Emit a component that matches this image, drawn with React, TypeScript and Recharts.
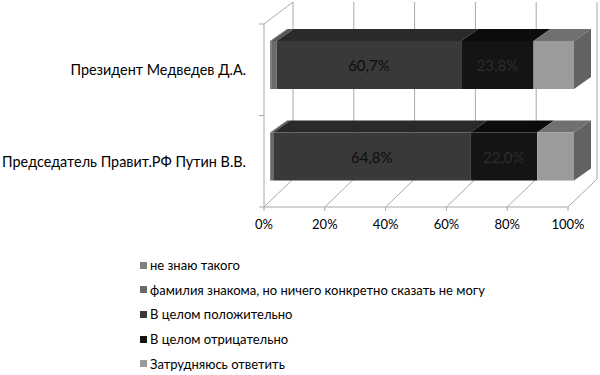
import React from "react";
import {
  BarChart,
  Bar,
  XAxis,
  YAxis,
  CartesianGrid,
  Legend,
  LabelList,
} from "recharts";

const categories = ["Президент Медведев Д.А.", "Председатель Правит.РФ Путин В.В."];
const seriesNames = [
  "не знаю такого",
  "фамилия знакома, но ничего конкретно сказать не могу",
  "В целом положительно",
  "В целом отрицательно",
  "Затрудняюсь ответить",
];
const dontKnow = [0.4, 0.3];
const familiar = [1.8, 0.8];
const positive = [60.7, 64.8];
const negative = [23.8, 22.0];
const hardToSay = [13.3, 12.1];
const xTicks = [0, 20, 40, 60, 80, 100];

const FONT = "Lato, 'Noto Sans', sans-serif";
const FRONT = ["#7f7f7f", "#6a6a6a", "#393939", "#141414", "#9b9b9b"];
const TOP = ["#666666", "#555555", "#2a2a2a", "#0c0c0c", "#707070"];
const LABEL = ["#000", "#000", "#0d0d0d", "#2c2c2c", "#000"];
const SIDE = "#626262";
const GRID = "#a9a9a9";

// 3d offsets: bars sit a bit behind the front plane, walls go further back
const OX = 6;
const OY = -5;
const BDX = 17;
const BDY = -12;
const WDX = 29;
const WDY = -28;

const keys = ["s0", "s1", "s2", "s3", "s4"];
const seriesData = [dontKnow, familiar, positive, negative, hardToSay];
const data = categories.map((name, i) => {
  const row: any = { name };
  keys.forEach((k, j) => (row[k] = seriesData[j][i]));
  return row;
});

const makeShape = (idx: number) => (props: any) => {
  const { x, y, width, height } = props;
  if (width == null || height == null) return <g />;
  const fx = x + OX;
  const fy = y + OY;
  const top = `${fx},${fy} ${fx + BDX},${fy + BDY} ${fx + width + BDX},${fy + BDY} ${fx + width},${fy}`;
  const side = `${fx + width},${fy} ${fx + width + BDX},${fy + BDY} ${fx + width + BDX},${fy + height + BDY} ${fx + width},${fy + height}`;
  return (
    <g>
      <polygon points={top} fill={TOP[idx]} />
      {idx === keys.length - 1 && <polygon points={side} fill={SIDE} />}
      <rect x={fx} y={fy} width={width} height={height} fill={FRONT[idx]} />
    </g>
  );
};

const makeLabel = (idx: number) => (props: any) => {
  const { x, y, width, height, value } = props;
  return (
    <text
      x={x + width / 2 + OX}
      y={y + height / 2 + OY}
      textAnchor="middle"
      dominantBaseline="central"
      fontFamily={FONT}
      fontSize={15}
      fill={LABEL[idx]}
    >
      {value.toFixed(1).replace(".", ",") + "%"}
    </text>
  );
};

const gridLine = (props: any) => {
  const { x1, y1, y2, index } = props;
  return (
    <g key={`v-${index}`}>
      <line x1={x1 + WDX} y1={2} x2={x1 + WDX} y2={y2 + WDY} stroke={GRID} />
      <line x1={x1} y1={y2} x2={x1 + WDX} y2={y2 + WDY} stroke={GRID} />
      {index === 0 && <line x1={x1} y1={y1} x2={x1 + WDX} y2={2} stroke={GRID} />}
    </g>
  );
};

const YTick = (props: any) => {
  const { x, y, height, payload } = props;
  const axisX = x + 18;
  const half = height / categories.length / 2;
  return (
    <g>
      <line x1={axisX - 5} y1={y - half} x2={axisX} y2={y - half} stroke={GRID} />
      <line x1={axisX - 5} y1={y + half} x2={axisX} y2={y + half} stroke={GRID} />
      <text x={x} y={y} textAnchor="end" dominantBaseline="central" fontFamily={FONT} fontSize={14.4} fill="#000">
        {payload.value}
      </text>
    </g>
  );
};

const LegendBox = () => (
  <div style={{ fontFamily: FONT, fontSize: 13, color: "#000" }}>
    {seriesNames.map((name, i) => (
      <div key={i} style={{ display: "flex", alignItems: "center", height: 24.6 }}>
        <span style={{ width: 7, height: 7, background: FRONT[i], marginRight: 3 }} />
        <span>{name}</span>
      </div>
    ))}
  </div>
);

export default function App() {
  return (
    <div style={{ position: "absolute", left: 0, top: 0, background: "#fff" }}>
      <BarChart
        width={600}
        height={375}
        data={data}
        layout="vertical"
        barSize={48}
        margin={{ top: 24, right: 32, left: 10, bottom: 138 }}
      >
        <CartesianGrid horizontal={false} vertical={gridLine} />
        <XAxis
          type="number"
          domain={[0, 100]}
          ticks={xTicks}
          tickFormatter={(v) => `${v}%`}
          height={30}
          stroke={GRID}
          tickSize={4}
          tickMargin={9}
          tick={{ fill: "#000", fontSize: 13, fontFamily: FONT }}
        />
        <YAxis
          type="category"
          dataKey="name"
          width={254}
          stroke={GRID}
          tickLine={false}
          tickSize={0}
          tickMargin={18}
          tick={<YTick />}
        />
        <Legend
          layout="vertical"
          align="center"
          verticalAlign="middle"
          wrapperStyle={{ left: 140, top: 253, width: 380 }}
          content={<LegendBox />}
        />
        {keys.map((k, i) => (
          <Bar
            key={k}
            dataKey={k}
            name={seriesNames[i]}
            stackId="a"
            fill={FRONT[i]}
            shape={makeShape(i)}
            isAnimationActive={false}
          >
            {(i === 2 || i === 3) && <LabelList dataKey={k} content={makeLabel(i)} />}
          </Bar>
        ))}
      </BarChart>
    </div>
  );
}
